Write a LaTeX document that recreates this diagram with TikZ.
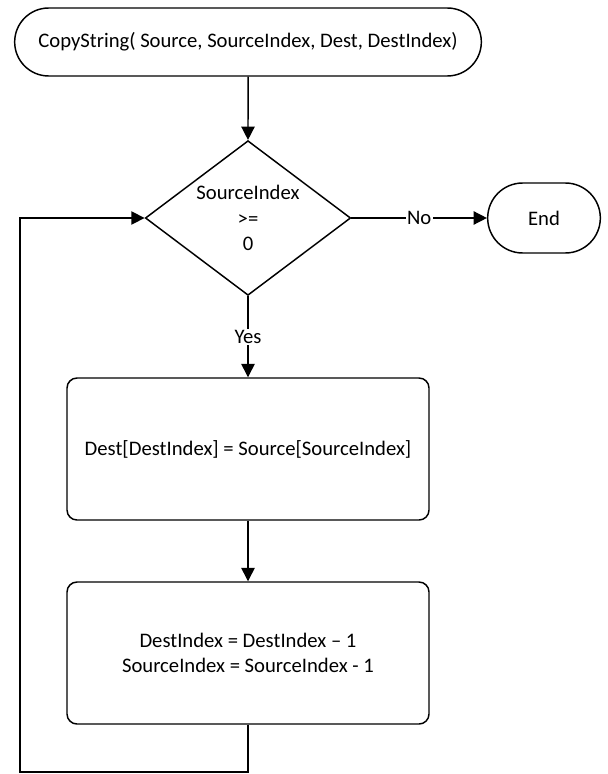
\documentclass[tikz,border=0pt]{standalone}
\usepackage{fontspec}
\setmainfont{Carlito}
\usepackage{tikz}
\usetikzlibrary{arrows.meta,positioning,shapes.geometric,shapes.misc}
\tikzset{
  term/.style  ={draw,rounded rectangle,inner sep=2pt,font=\fontsize{15.5}{19}\selectfont},
  decide/.style={draw,diamond,aspect=1.35,inner sep=0pt,align=center,font=\fontsize{15.5}{19}\selectfont},
  proc/.style  ={draw,rounded corners=7.5pt,inner sep=2pt,align=center,
                 minimum width=271.5pt,minimum height=106.5pt,font=\fontsize{15.5}{19}\selectfont},
  ar/.style    ={-{Triangle[length=10pt,width=10pt]}},
  lbl/.style   ={fill=white,inner sep=1pt,font=\fontsize{15.5}{19}\selectfont},
}

\begin{document}
\begin{tikzpicture}[x=0.75pt,y=-0.75pt,line width=1.1pt]
  \useasboundingbox (0,0) rectangle (607,774);
  \node[term,minimum width=354pt,minimum height=51pt] (start) at (248,42)
    {CopyString( Source, SourceIndex, Dest, DestIndex)};
  \node[decide,minimum width=154pt,minimum height=116pt] (test) at (248,218)
    {SourceIndex\\>=\\0};
  \node[term,minimum width=88.5pt,minimum height=52.5pt] (stop) at (544,218) {End};
  \node[proc] (copy) at (248,449) {Dest[DestIndex] = Source[SourceIndex]};
  \node[proc] (dec) at (248,653) {DestIndex = DestIndex -- 1\\SourceIndex = SourceIndex - 1};
  \coordinate (lb) at (20,772);
  \draw[ar] (start) -- (test);
  \draw[ar] (test) -- node[lbl]{No} (stop);
  \draw[ar] (test) -- node[lbl]{Yes} (copy);
  \draw[ar] (copy) -- (dec);
  \draw[ar] (dec.south) |- (lb) |- (test.west);
\end{tikzpicture}
\end{document}
